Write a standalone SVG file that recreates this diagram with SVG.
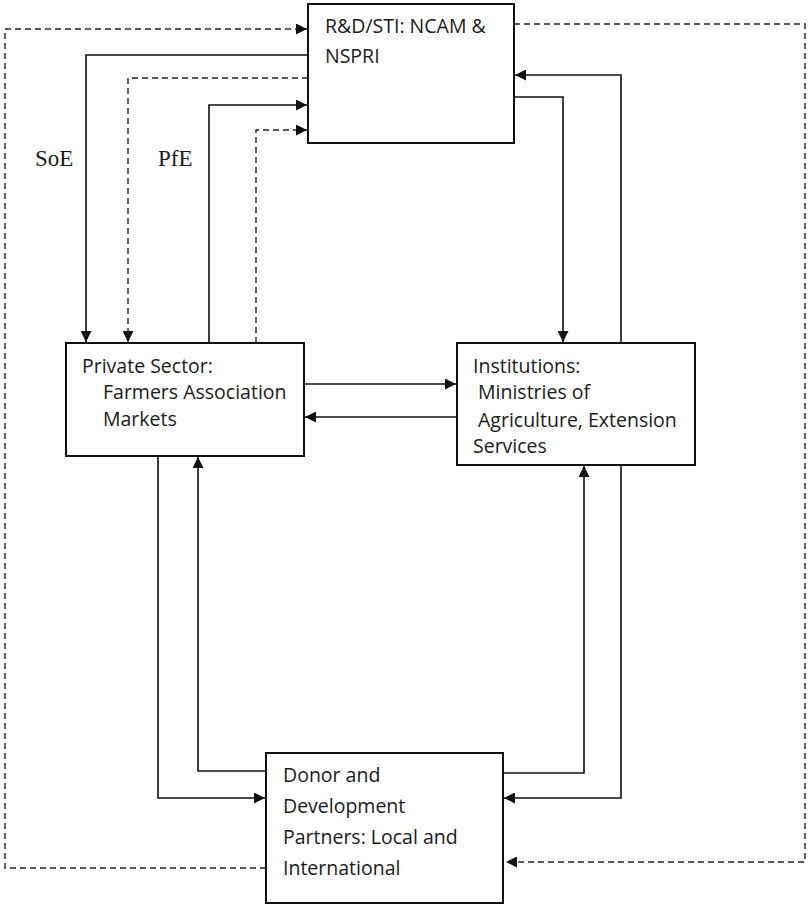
<svg xmlns="http://www.w3.org/2000/svg" width="810" height="906" viewBox="0 0 810 906">
  <style>
    .box { fill: #ffffff; stroke: #111111; stroke-width: 2; }
    .lbl { font-family: "Open Sans", "Liberation Sans", sans-serif; font-size: 19.5px; fill: #1a1a1a; }
    .tag { font-family: "Liberation Serif", serif; font-size: 23px; fill: #1a1a1a; }
    .ln { fill: none; stroke: #111111; stroke-width: 1.6; }
    .dash { stroke-dasharray: 6 4; stroke-width: 1.4; stroke: #222222; }
  </style>
  <defs>
    <marker id="arrow" viewBox="0 0 10 10" refX="10" refY="5" markerWidth="11" markerHeight="11" markerUnits="userSpaceOnUse" orient="auto">
      <path d="M0,0 L10,5 L0,10 Z" fill="#111111"/>
    </marker>
  </defs>

  <rect width="810" height="906" fill="#ffffff"/>

  <g id="connectors">
    <!-- dashed outer loop: donor -> R&D (left side) -->
    <path class="ln dash" d="M266,868 H5 V29 H307" marker-end="url(#arrow)"/>
    <!-- dashed outer loop: R&D -> donor (right side) -->
    <path class="ln dash" d="M514,24 H805 V862 H506" marker-end="url(#arrow)"/>
    <!-- SoE: R&D -> private sector -->
    <path class="ln" d="M308,55 H86 V342" marker-end="url(#arrow)"/>
    <path class="ln dash" d="M308,78 H128 V342" marker-end="url(#arrow)"/>
    <!-- PfE: private sector -> R&D -->
    <path class="ln" d="M209,343 V105 H307" marker-end="url(#arrow)"/>
    <path class="ln dash" d="M256,343 V130 H307" marker-end="url(#arrow)"/>
    <!-- R&D <-> institutions -->
    <path class="ln" d="M514,97 H563 V342" marker-end="url(#arrow)"/>
    <path class="ln" d="M621,343 V75 H515" marker-end="url(#arrow)"/>
    <!-- private sector <-> institutions -->
    <path class="ln" d="M304,384 H456" marker-end="url(#arrow)"/>
    <path class="ln" d="M457,417 H305" marker-end="url(#arrow)"/>
    <!-- private sector <-> donors -->
    <path class="ln" d="M158,456 V798 H265" marker-end="url(#arrow)"/>
    <path class="ln" d="M266,771 H198 V457" marker-end="url(#arrow)"/>
    <!-- institutions <-> donors -->
    <path class="ln" d="M503,773 H584 V466" marker-end="url(#arrow)"/>
    <path class="ln" d="M621,465 V798 H504" marker-end="url(#arrow)"/>
  </g>

  <text class="tag" x="35" y="166">SoE</text>
  <text class="tag" x="158" y="166">PfE</text>

  <g id="rd">
    <rect class="box" x="308" y="4" width="206" height="139"/>
    <text class="lbl" x="325" y="33">R&amp;D/STI: NCAM &amp;</text>
    <text class="lbl" x="325" y="63">NSPRI</text>
  </g>

  <g id="private">
    <rect class="box" x="66" y="343" width="238" height="113"/>
    <text class="lbl" x="82" y="373">Private Sector:</text>
    <text class="lbl" x="103" y="399">Farmers Association</text>
    <text class="lbl" x="103" y="426">Markets</text>
  </g>

  <g id="institutions">
    <rect class="box" x="457" y="343" width="238" height="122"/>
    <text class="lbl" x="473" y="373">Institutions:</text>
    <text class="lbl" x="478" y="399">Ministries of</text>
    <text class="lbl" x="478" y="427">Agriculture, Extension</text>
    <text class="lbl" x="473" y="453">Services</text>
  </g>

  <g id="donors">
    <rect class="box" x="266" y="753" width="237" height="150"/>
    <text class="lbl" x="283" y="782">Donor and</text>
    <text class="lbl" x="283" y="813">Development</text>
    <text class="lbl" x="283" y="844">Partners: Local and</text>
    <text class="lbl" x="283" y="875">International</text>
  </g>
</svg>
